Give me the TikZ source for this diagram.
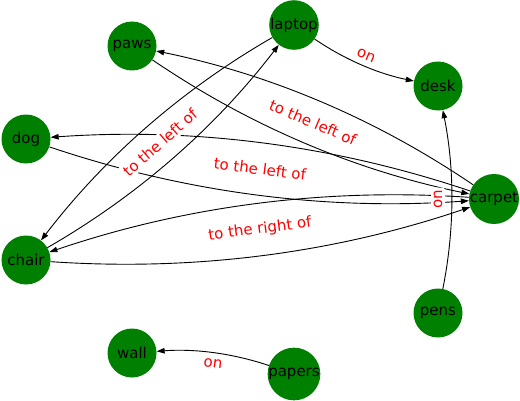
\documentclass[tikz,border=0pt]{standalone}
\usepackage{fontspec}
\setmainfont{DejaVu Sans}
\usetikzlibrary{arrows.meta,calc}
\definecolor{nodegreen}{RGB}{0,128,0}
\begin{document}
\begin{tikzpicture}[x=1pt,y=1pt,
  vtx/.style={circle,fill=nodegreen,minimum size=49pt,inner sep=0pt,font=\fontsize{15}{18}\selectfont},
  edge/.style={-{Triangle[length=8pt,width=5.5pt]},line width=0.9pt,bend right=11.3,looseness=0.87},
  elabel/.style={text=red,fill=white,inner sep=2.5pt,rounded corners=2pt,font=\fontsize{15}{18}\selectfont}]
\useasboundingbox (0,0) rectangle (520,400);
\node[vtx] (paws)   at (132,354) {paws};
\node[vtx] (laptop) at (294,375) {laptop};
\node[vtx] (desk)   at (438,314) {desk};
\node[vtx] (dog)    at (26,261)  {dog};
\node[vtx] (carpet) at (494,201) {carpet};
\node[vtx] (chair)  at (26,140)  {chair};
\node[vtx] (pens)   at (438,87)  {pens};
\node[vtx] (wall)   at (132,47)  {wall};
\node[vtx] (papers) at (294,26)  {papers};

\draw[edge] (laptop) to (desk);
\draw[edge] (pens) to (desk);
\draw[edge] (papers) to (wall);
\draw[edge] (paws) to (carpet);
\draw[edge] (carpet) to (paws);
\draw[edge] (dog) to (carpet);
\draw[edge] (carpet) to (dog);
\draw[edge] (chair) to (carpet);
\draw[edge] (carpet) to (chair);
\draw[edge] (laptop) to (chair);
\draw[edge] (chair) to (laptop);

\node[elabel,rotate=-22.96] (l1) at ($(laptop)!0.5!(desk)$) {on};
\node[elabel,rotate=90] (l2) at ($(pens)!0.5!(desk)$) {on};
\node[elabel,rotate=-7.39] (l3) at ($(papers)!0.5!(wall)$) {on};
\node[elabel,rotate=-22.91] (l4) at ($(paws)!0.5!(carpet)$) {to the left of};
\node[elabel,rotate=-7.31] (l5) at ($(dog)!0.5!(carpet)$) {to the left of};
\node[elabel,rotate=7.43] (l6) at ($(chair)!0.5!(carpet)$) {to the right of};
\node[elabel,rotate=41.25] (l7) at ($(laptop)!0.5!(chair)$) {to the left of};
\end{tikzpicture}
\end{document}
